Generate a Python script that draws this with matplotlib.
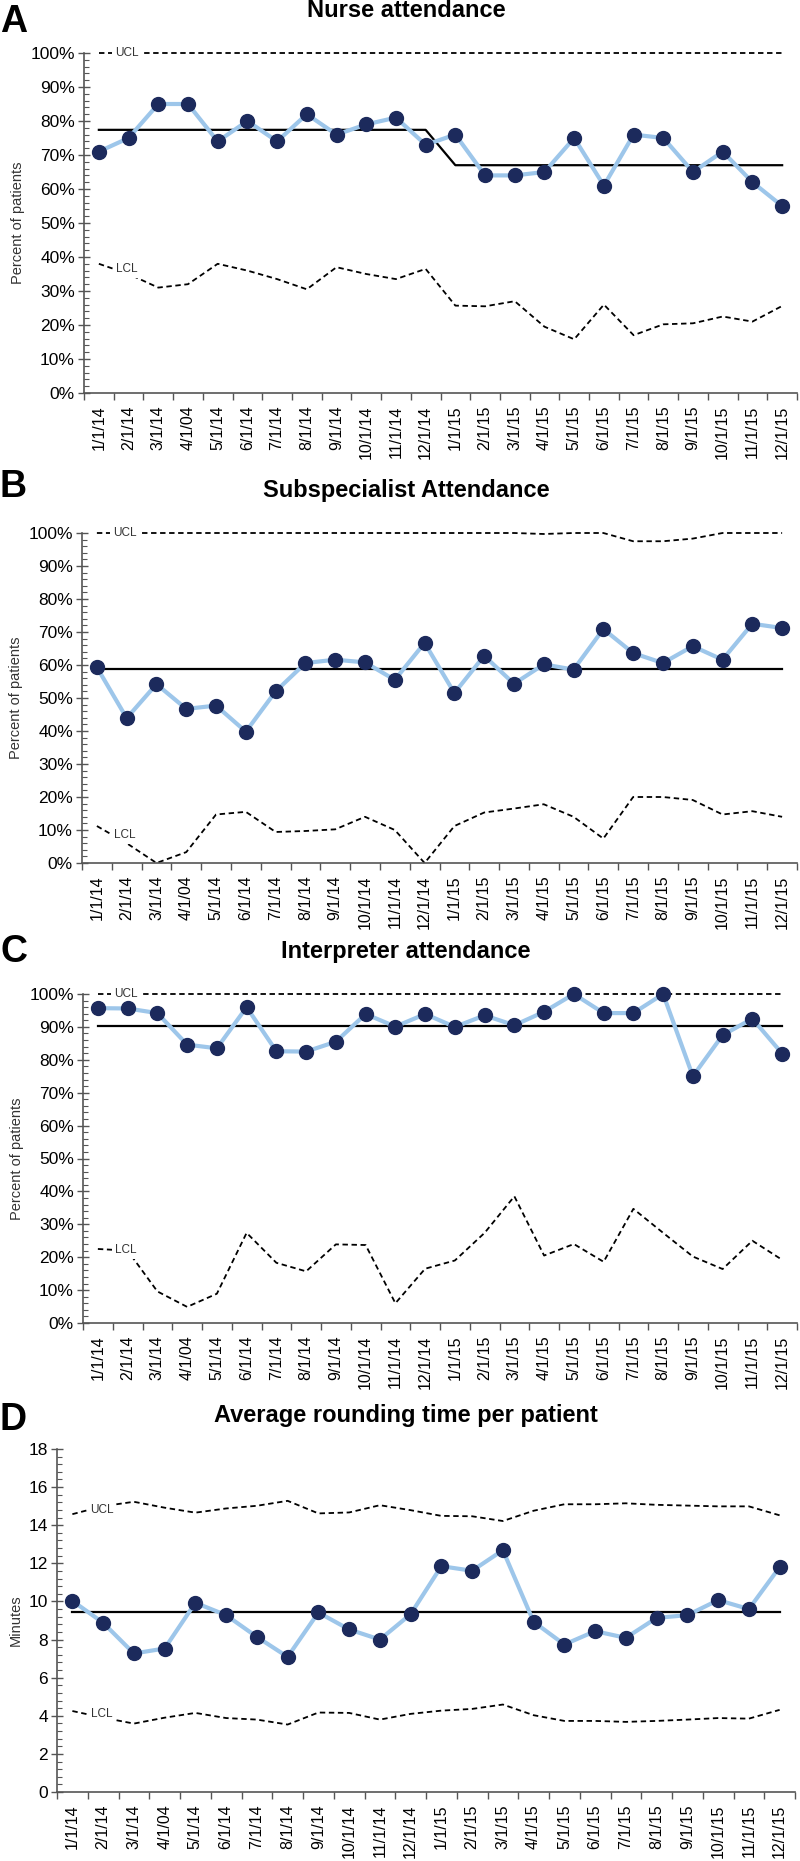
import matplotlib
matplotlib.use("Agg")
import matplotlib.pyplot as plt
from matplotlib.ticker import MultipleLocator, FuncFormatter

plt.rcParams['font.family'] = ['Liberation Sans', 'DejaVu Sans']

# --- data ---
months = ["1/1/14", "2/1/14", "3/1/14", "4/1/04", "5/1/14", "6/1/14", "7/1/14", "8/1/14",
          "9/1/14", "10/1/14", "11/1/14", "12/1/14", "1/1/15", "2/1/15", "3/1/15", "4/1/15",
          "5/1/15", "6/1/15", "7/1/15", "8/1/15", "9/1/15", "10/1/15", "11/1/15", "12/1/15"]

nurse = [71, 75, 85, 85, 74, 80, 74, 82, 76, 79, 81, 73,
         76, 64, 64, 65, 75, 61, 76, 75, 65, 71, 62, 55]
nurse_cl = [77.4] * 12 + [67] * 12
nurse_ucl = [100] * 24
nurse_lcl = [38, 35, 31, 32, 38, 36, 33.5, 30.5, 37, 35, 33.5, 36.5,
             25.7, 25.5, 27, 19.5, 15.8, 26, 17, 20.2, 20.5, 22.5, 21, 25.6]

subspec = [59.3, 43.9, 54.2, 46.7, 47.7, 39.8, 52, 60.6, 61.6, 60.8, 55.5, 66.7,
           51.5, 62.8, 54.3, 60.2, 58.6, 70.9, 63.6, 60.6, 65.7, 61.6, 72.5, 71.2]
subspec_cl = [58.8] * 24
subspec_ucl = [100] * 15 + [99.7, 100, 100, 97.5, 97.5, 98.3, 100, 100, 100]
subspec_lcl = [11.2, 6, 0, 3.3, 14.7, 15.5, 9.4, 9.7, 10.2, 14, 10, 0,
               11.2, 15.3, 16.5, 17.8, 14, 7.4, 20, 20, 19.1, 14.7, 15.7, 14]

interp = [95.7, 95.6, 94.2, 84.6, 83.5, 96, 82.6, 82.5, 85.5, 93.9, 90.1, 93.9,
          90, 93.5, 90.5, 94.6, 100, 94.2, 94.2, 100, 75, 87.5, 92.5, 81.9]
interp_cl = [90.4] * 24
interp_ucl = [100] * 24
interp_lcl = [22.5, 22, 9.6, 4.9, 8.9, 27.4, 18.3, 15.7, 23.9, 23.7, 6, 16.5,
              19, 27.4, 38.5, 20.5, 24, 18.6, 34.7, 27.4, 20.2, 16.4, 25, 19.2]

rounding = [10.03, 8.88, 7.27, 7.53, 9.93, 9.28, 8.14, 7.09, 9.42, 8.53, 8.0, 9.33,
            11.85, 11.61, 12.69, 8.93, 7.74, 8.44, 8.09, 9.14, 9.28, 10.07, 9.6, 11.8]
rounding_cl = [9.42] * 24
rounding_ucl = [14.58, 15.0, 15.23, 14.92, 14.66, 14.88, 15.02, 15.28, 14.62, 14.67, 15.05, 14.79,
                14.49, 14.47, 14.22, 14.76, 15.1, 15.1, 15.15, 15.07, 15.03, 14.99, 14.99, 14.52]
rounding_lcl = [4.25, 3.9, 3.59, 3.9, 4.15, 3.88, 3.8, 3.54, 4.17, 4.15, 3.8, 4.1,
                4.27, 4.36, 4.59, 4.03, 3.73, 3.73, 3.68, 3.73, 3.8, 3.88, 3.85, 4.31]

panels = [
    ("A", "Nurse attendance", nurse, nurse_cl, nurse_ucl, nurse_lcl, True),
    ("B", "Subspecialist Attendance", subspec, subspec_cl, subspec_ucl, subspec_lcl, True),
    ("C", "Interpreter attendance", interp, interp_cl, interp_ucl, interp_lcl, True),
    ("D", "Average rounding time per patient", rounding, rounding_cl, rounding_ucl, rounding_lcl, False),
]

W, H = 800, 1861
fig = plt.figure(figsize=(W / 100, H / 100), dpi=100)

# axes boxes in pixels: left, right, top, bottom
boxes = [(84, 797, 53, 393), (82, 797, 533, 863), (83, 797, 994, 1323), (57, 795, 1449, 1792)]
title_y = [17, 497, 958, 1422]
letter_y = [32, 497, 962, 1430]

navy = "#1c2a5c"
light = "#9dc6ea"
x = list(range(len(months)))

for (letter, title, vals, cl, ucl, lcl, pct), (l, r, t, b), ty, ly in zip(panels, boxes, title_y, letter_y):
    ax = fig.add_axes([l / W, 1 - b / H, (r - l) / W, (b - t) / H])
    ax.plot(x, ucl, color="black", lw=1.3, ls=(0, (3, 2)), clip_on=False, zorder=2)
    ax.plot(x, lcl, color="black", lw=1.3, ls=(0, (3, 2)), clip_on=False, zorder=2)
    ax.plot(x, cl, color="black", lw=1.6, clip_on=False, zorder=2)
    ax.plot(x, vals, color=light, lw=3, marker="o", ms=10, mfc=navy, mec=navy,
            clip_on=False, zorder=4)

    lab_x = 0.95
    for txt, arr in (("UCL", ucl), ("LCL", lcl)):
        yv = (arr[0] + arr[1]) / 2
        ax.text(lab_x, yv, txt, fontsize=8.5, color="#333333", ha="center", va="center",
                zorder=3, bbox=dict(boxstyle="square,pad=0.25", fc="white", ec="none"))

    ax.set_xlim(-0.5, len(months) - 0.5)
    if pct:
        ax.set_ylim(0, 100)
        ax.yaxis.set_major_locator(MultipleLocator(10))
        ax.yaxis.set_minor_locator(MultipleLocator(2))
        ax.yaxis.set_major_formatter(FuncFormatter(lambda v, p: f"{int(round(v))}%"))
        ax.set_ylabel("Percent of patients", fontsize=10.5, color="#333333", labelpad=4)
    else:
        ax.set_ylim(0, 18)
        ax.yaxis.set_major_locator(MultipleLocator(2))
        ax.yaxis.set_minor_locator(MultipleLocator(0.4))
        ax.set_ylabel("Minutes", fontsize=10.5, color="#333333", labelpad=4)

    # category labels at the points, tick marks at the boundaries
    ax.set_xticks(x)
    ax.set_xticklabels(months, rotation=90, fontsize=11.5)
    ax.set_xticks([i - 0.5 for i in range(len(months) + 1)], minor=True)
    ax.tick_params(axis="x", which="major", length=0, pad=9)
    ax.tick_params(axis="x", which="minor", direction="out", length=5, width=1, color="#555555")
    ax.tick_params(axis="y", which="major", direction="inout", length=9, width=1,
                   color="#555555", labelsize=12.5, pad=2)
    ax.tick_params(axis="y", which="minor", direction="in", length=3.5, width=0.8, color="#555555")

    for s in ("top", "right"):
        ax.spines[s].set_visible(False)
    for s in ("left", "bottom"):
        ax.spines[s].set_color("#555555")
        ax.spines[s].set_linewidth(1.2)

    fig.text(406 / W, 1 - ty / H, title, fontsize=17, fontweight="bold", ha="center", va="baseline")
    fig.text(0 / W, 1 - ly / H, letter, fontsize=27, fontweight="bold", ha="left", va="baseline")

fig.savefig("out.png", dpi=100)
